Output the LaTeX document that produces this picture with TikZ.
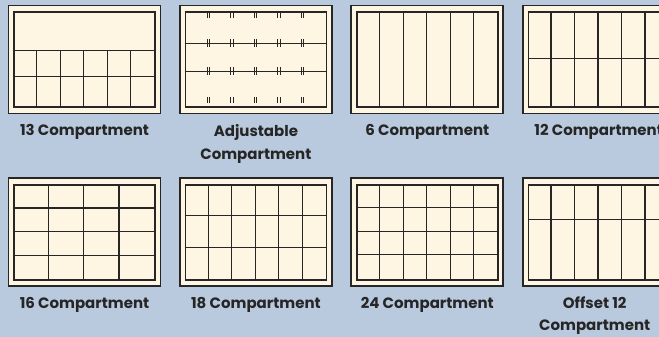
\documentclass[tikz,border=0pt]{standalone}
\usepackage{fontspec}
\setmainfont{Poppins}
\usetikzlibrary{positioning,calc}

\definecolor{bgblue}{RGB}{186,202,222}
\definecolor{cream}{RGB}{254,245,227}
\definecolor{ink}{RGB}{38,38,38}

\begin{document}
\begin{tikzpicture}[x=1pt, y=-1pt,
  tray/.style={draw=ink, line width=1.9pt, fill=cream, minimum width=152pt, minimum height=108pt, inner sep=0pt},
  bin/.style={draw=ink, line width=1.4pt, minimum width=141pt, minimum height=95pt, inner sep=0pt},
  wall/.style={draw=ink, line width=1.2pt},
  clip/.style={draw=ink, line width=0.6pt},
  lbl/.style={font=\bfseries\fontsize{15}{22.5}\selectfont, text=ink, align=center, inner sep=0pt},
  node distance=63pt and 17.5pt
]
\useasboundingbox (0,0) rectangle (659,337);
\clip (0,0) rectangle (659,337);
\fill[bgblue] (0,0) rectangle (659,337);

% trays, top row then bottom row
\node[tray] (t13) at (84.5,59.5) {};
\node[tray, right=of t13] (tadj) {};
\node[tray, right=of tadj] (t6) {};
\node[tray, right=of t6] (t12) {};
\node[tray, below=of t13] (t16) {};
\node[tray, below=of tadj] (t18) {};
\node[tray, below=of t6] (t24) {};
\node[tray, below=of t12] (toff) {};

\node[bin] (b13) at (t13) {};
\node[bin] (badj) at (tadj) {};
\node[bin] (b6) at (t6) {};
\node[bin] (b12) at (t12) {};
\node[bin] (b16) at (t16) {};
\node[bin] (b18) at (t18) {};
\node[bin] (b24) at (t24) {};
\node[bin] (boff) at (toff) {};

% dividers
\begin{scope}[shift={(b13.north west)}]
  \draw[wall] (0,39) -- (141,39) (0,65) -- (141,65);
  \foreach \i in {1,...,5} \draw[wall] (\i*23.5,39) -- (\i*23.5,95);
\end{scope}
\begin{scope}[shift={(badj.north west)}]
  \draw[wall] (0,32) -- (141,32) (0,60) -- (141,60);
  \foreach \i in {1,...,5} {
    \foreach \d in {-1.3,1.3} {
      \draw[clip] (\i*23.5+\d,1) -- (\i*23.5+\d,7);
      \draw[clip] (\i*23.5+\d,28) -- (\i*23.5+\d,36);
      \draw[clip] (\i*23.5+\d,56) -- (\i*23.5+\d,64);
      \draw[clip] (\i*23.5+\d,86) -- (\i*23.5+\d,92);
    }
  }
\end{scope}
\begin{scope}[shift={(b6.north west)}]
  \foreach \i in {1,...,5} \draw[wall] (\i*23.5,0) -- (\i*23.5,95);
\end{scope}
\begin{scope}[shift={(b12.north west)}]
  \draw[wall] (0,47) -- (141,47);
  \foreach \i in {1,...,5} \draw[wall] (\i*23.5,0) -- (\i*23.5,95);
\end{scope}
\begin{scope}[shift={(b16.north west)}]
  \foreach \i in {1,2,3} \draw[wall] (0,\i*23.75) -- (141,\i*23.75);
  \foreach \i in {1,2,3} \draw[wall] (\i*35.25,0) -- (\i*35.25,95);
\end{scope}
\begin{scope}[shift={(b18.north west)}]
  \draw[wall] (0,31) -- (141,31) (0,63) -- (141,63);
  \foreach \i in {1,...,5} \draw[wall] (\i*23.5,0) -- (\i*23.5,95);
\end{scope}
\begin{scope}[shift={(b24.north west)}]
  \foreach \i in {1,2,3} \draw[wall] (0,\i*23.5) -- (141,\i*23.5);
  \foreach \i in {1,...,5} \draw[wall] (\i*23.5,0) -- (\i*23.5,95);
\end{scope}
\begin{scope}[shift={(boff.north west)}]
  \draw[wall] (0,35) -- (141,35);
  \foreach \i in {1,...,5} \draw[wall] (\i*23.5,0) -- (\i*23.5,95);
\end{scope}

% labels
\node[lbl, below=10pt of t13] (l13) {13 Compartment};
\node[lbl, below=10pt of tadj] (ladj) {Adjustable\\Compartment};
\node[lbl, below=10pt of t6] (l6) {6 Compartment};
\node[lbl, below=10pt of t12] (l12) {12 Compartment};
\node[lbl, below=10pt of t16] (l16) {16 Compartment};
\node[lbl, below=10pt of t18] (l18) {18 Compartment};
\node[lbl, below=10pt of t24] (l24) {24 Compartment};
\node[lbl, below=9pt of toff, xshift=-4pt] (loff) {Offset 12\\Compartment};
\end{tikzpicture}
\end{document}
